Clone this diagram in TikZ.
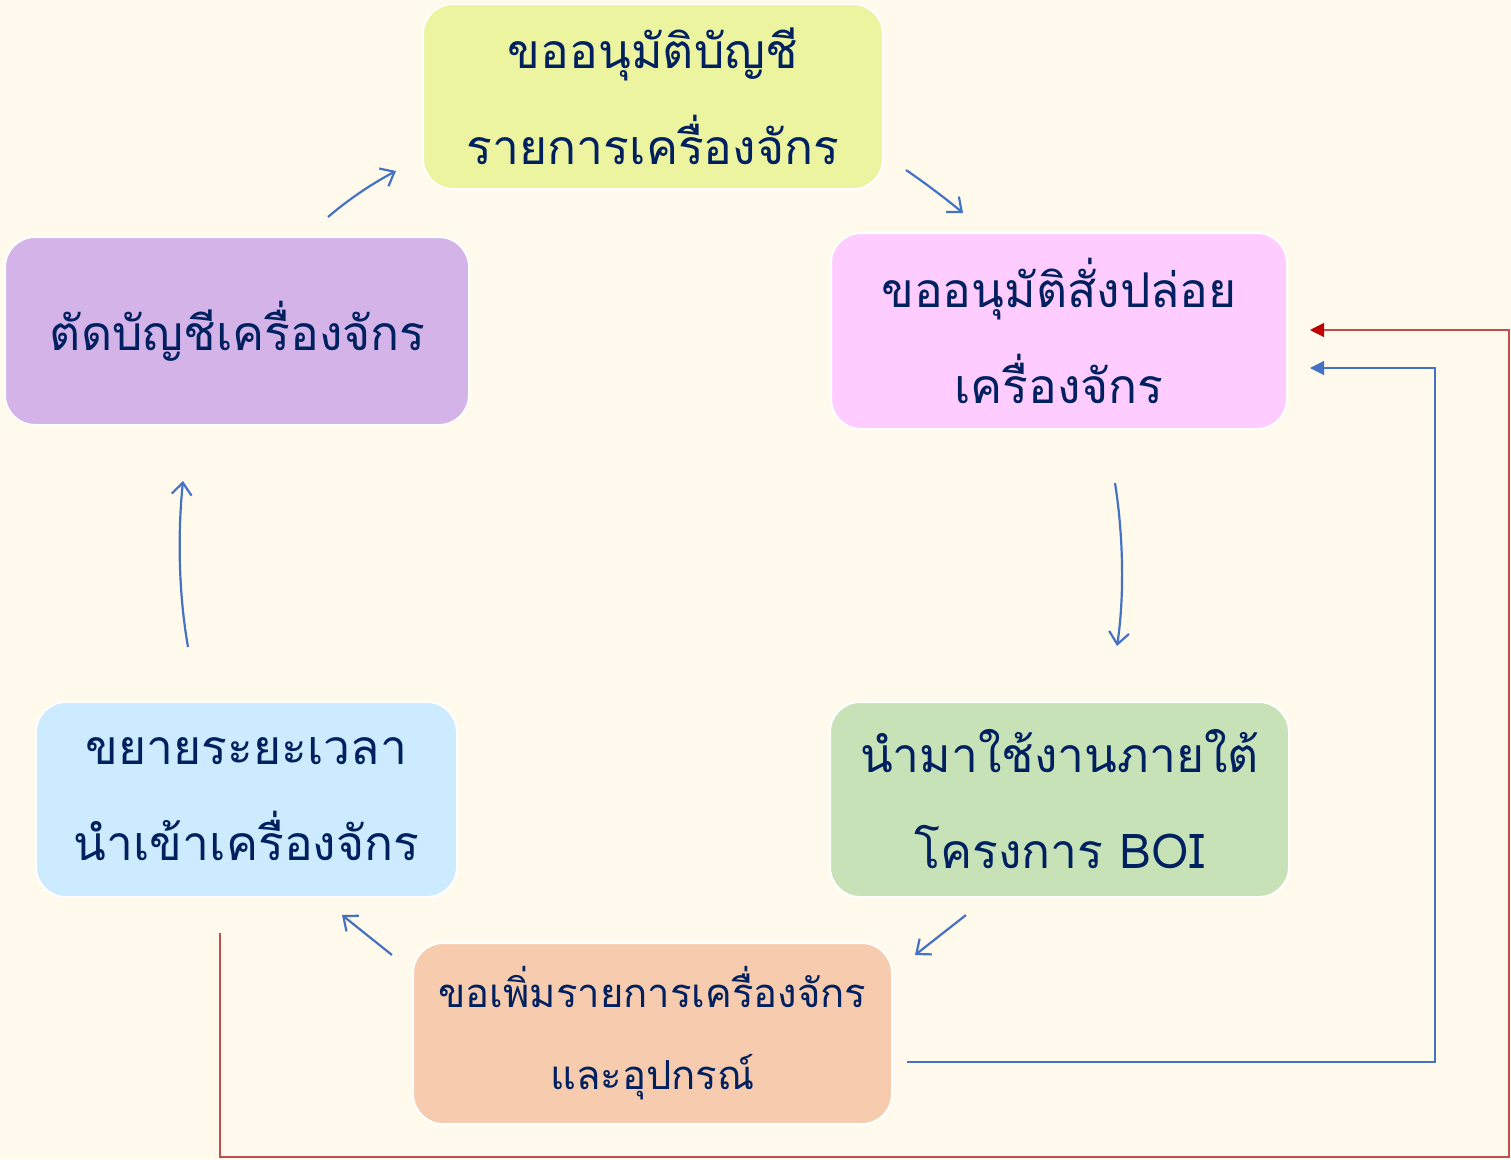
\documentclass[tikz,border=0pt]{standalone}
\usepackage{fontspec}
\newfontfamily\thaifont[Script=Thai]{Loma}
\usetikzlibrary{arrows.meta}
\definecolor{bgc}{HTML}{FFFAEB}
\definecolor{txt}{HTML}{002060}
\definecolor{cyel}{HTML}{ECF4A0}
\definecolor{cpink}{HTML}{FFCCFF}
\definecolor{cgreen}{HTML}{C8E2B8}
\definecolor{corange}{HTML}{F7CBAD}
\definecolor{cblue}{HTML}{CCEBFF}
\definecolor{cpurple}{HTML}{D4B4E8}
\definecolor{arr}{HTML}{4472C4}
\definecolor{redline}{HTML}{C0504D}
\definecolor{redtip}{HTML}{C00000}
\tikzset{
  box/.style={draw=white, line width=2pt, rounded corners=30pt, align=center,
    text=txt, font=\thaifont\fontsize{48}{96}\selectfont, inner sep=0pt},
  flow/.style={draw=arr, line width=2.2pt, -{Straight Barb[length=12pt,width=20pt,line width=2.2pt]}},
  linkb/.style={draw=arr, line width=1.2pt, -{Triangle[length=14pt,width=14pt]}},
  linkr/.style={draw=redline, line width=1.2pt, -{Triangle[length=14pt,width=14pt,fill=redtip,color=redtip]}}
}
\begin{document}
\begin{tikzpicture}[x=1pt,y=-1pt]
\fill[bgc] (0,0) rectangle (1511,1159);
\useasboundingbox (0,0) rectangle (1511,1159);

\node[box, fill=cyel, minimum width=460pt, minimum height=185pt] (n1) at (653,96.5) {ขออนุมัติบัญชี\\รายการเครื่องจักร};
\node[box, fill=cpink, minimum width=456pt, minimum height=196pt] (n2) at (1059,331) {ขออนุมัติสั่งปล่อย\\เครื่องจักร};
\node[box, fill=cgreen, minimum width=459pt, minimum height=195pt] (n3) at (1059.5,799.5) {นำมาใช้งานภายใต้\\โครงการ BOI};
\node[box, fill=corange, minimum width=479pt, minimum height=181pt, font=\thaifont\fontsize{40}{82}\selectfont] (n4) at (652.5,1033.5) {ขอเพิ่มรายการเครื่องจักร\\และอุปกรณ์};
\node[box, fill=cblue, minimum width=421pt, minimum height=195pt] (n5) at (246.5,799.5) {ขยายระยะเวลา\\นำเข้าเครื่องจักร};
\node[box, fill=cpurple, minimum width=464pt, minimum height=188pt, text width=464pt, align=left] (n6) at (237,331) {\hspace*{45pt}ตัดบัญชีเครื่องจักร};

% cycle arrows
\draw[flow] (328,217) .. controls (350,198) and (375,182) .. (396,171);
\draw[flow] (906,170) .. controls (925,183) and (945,198) .. (963,213);
\draw[flow] (1115,483) .. controls (1124,540) and (1124,600) .. (1117,646);
\draw[flow] (966,915) -- (915,955);
\draw[flow] (392,955) -- (342,915);
\draw[flow] (188,647) .. controls (178,590) and (178,530) .. (183,481);

% feedback connectors
\coordinate (b0) at (907,1062);
\coordinate (b1) at (1435,1062);
\coordinate (b2) at (1435,368);
\coordinate (b3) at (1310,368);
\draw[linkb] (b0) -- (b1) -- (b2) -- (b3);
\coordinate (r0) at (220,933);
\coordinate (r1) at (220,1157);
\coordinate (r2) at (1509,1157);
\coordinate (r3) at (1509,330);
\coordinate (r4) at (1310,330);
\draw[linkr] (r0) -- (r1) -- (r2) -- (r3) -- (r4);
\end{tikzpicture}
\end{document}
